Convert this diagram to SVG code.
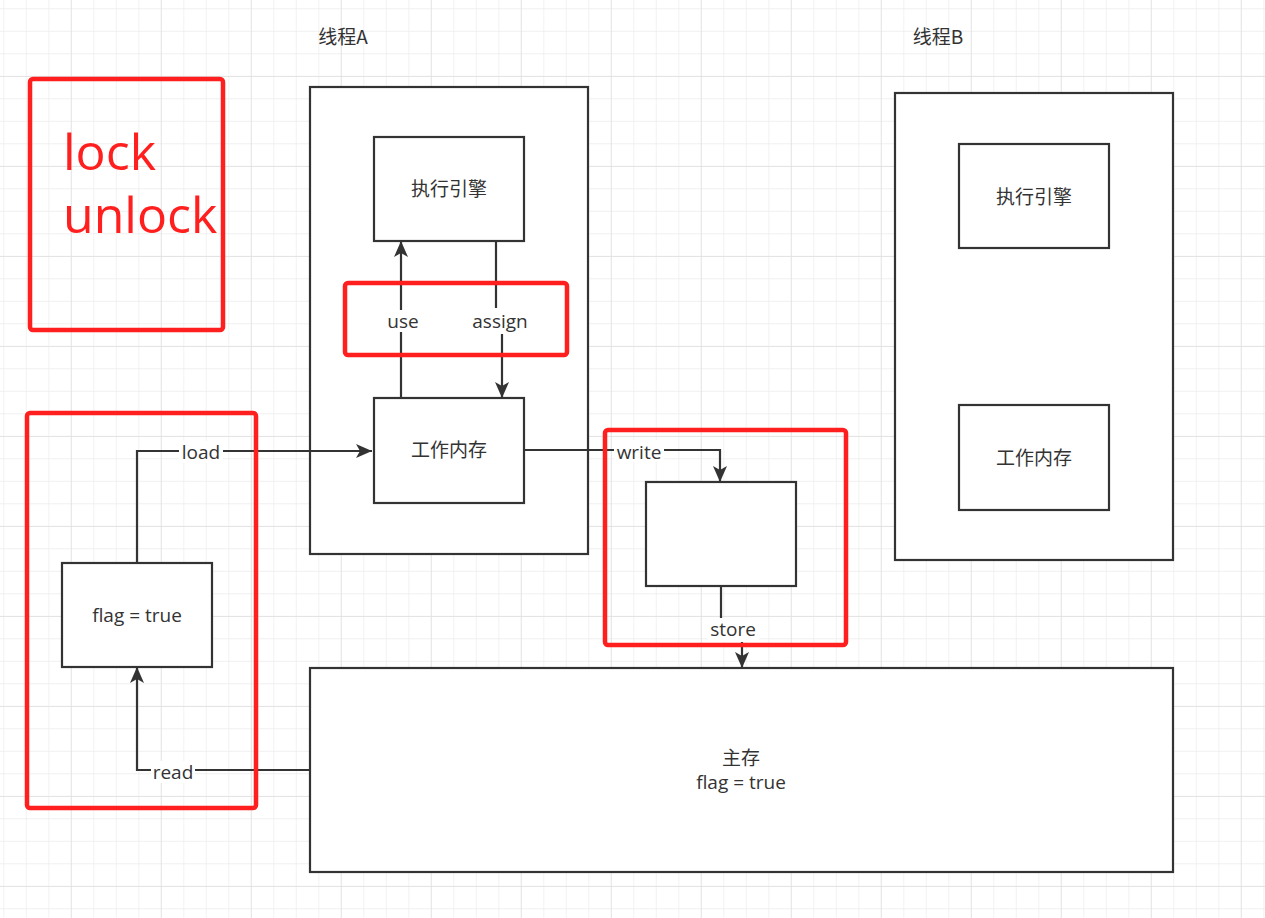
<svg xmlns="http://www.w3.org/2000/svg" width="1265" height="918" viewBox="0 0 1265 918">
<defs>
<pattern id="minor" x="3.3" y="8.3" width="22.5" height="22.5" patternUnits="userSpaceOnUse">
<path d="M0 0H22.5M0 0V22.5" fill="none" stroke="#ebebeb" stroke-width="1.3"/>
</pattern>
<pattern id="major" x="70.8" y="76" width="90" height="90" patternUnits="userSpaceOnUse">
<path d="M0 0H90M0 0V90" fill="none" stroke="#e0e0e0" stroke-width="1.4"/>
</pattern>
<marker id="arrow" viewBox="0 0 16 14" refX="16" refY="7" markerWidth="16" markerHeight="14" markerUnits="userSpaceOnUse" orient="auto">
<path d="M0 0L16 7L0 14L4 7Z" fill="#333"/>
</marker>
</defs>
<style>
.box{fill:#fff;stroke:#333;stroke-width:2.2}
.red{fill:none;stroke:#ff1f1f;stroke-width:4.5}
.t{font-family:"Open Sans","Noto Sans CJK SC",sans-serif;font-size:19px;fill:#333;text-anchor:middle}
.c{font-family:"Noto Sans CJK SC",sans-serif;font-size:19px;fill:#333;text-anchor:middle}
.edge{fill:none;stroke:#333;stroke-width:2.2;marker-end:url(#arrow)}
.lbg{fill:#fff}
.big{font-family:"Open Sans",sans-serif;font-size:50px;fill:#ff1f1f}
</style>
<rect width="1265" height="918" fill="#fff"/>
<rect width="1265" height="918" fill="url(#minor)"/>
<rect width="1265" height="918" fill="url(#major)"/>

<g id="titleA"><text class="c" x="343" y="44">线程A</text></g>
<g id="titleB"><text class="c" x="938" y="44">线程B</text></g>

<g id="threadA"><rect class="box" x="310" y="87" width="278" height="467"/></g>
<g id="threadB"><rect class="box" x="895" y="93" width="278" height="467"/></g>

<g id="engineA"><rect class="box" x="374" y="137" width="150" height="104"/><text class="c" x="449" y="196">执行引擎</text></g>
<g id="memA"><rect class="box" x="374" y="398" width="150" height="105"/><text class="c" x="449" y="457">工作内存</text></g>
<g id="engineB"><rect class="box" x="959" y="144" width="150" height="104"/><text class="c" x="1034" y="204">执行引擎</text></g>
<g id="memB"><rect class="box" x="959" y="405" width="150" height="105"/><text class="c" x="1034" y="465">工作内存</text></g>
<g id="flagBox"><rect class="box" x="62" y="563" width="150" height="104"/><text class="t" x="137" y="622">flag = true</text></g>
<g id="buffer"><rect class="box" x="646" y="482" width="150" height="104"/></g>
<g id="mainMem"><rect class="box" x="310" y="668" width="863" height="204"/><text class="c" x="741" y="765">主存</text><text class="t" x="741" y="789">flag = true</text></g>

<g id="connectors">
<path class="edge" d="M401 398V241"/>
<path class="edge" d="M496 241V322H502V398"/>
<path class="edge" d="M137 563V451H372"/>
<path class="edge" d="M310 770H137V667"/>
<path class="edge" d="M524 450H720V482"/>
<path class="edge" d="M721 586V628H742V668"/>
<rect class="lbg" x="385" y="310" width="36" height="22"/>
<text class="t" x="403" y="328">use</text>
<rect class="lbg" x="470" y="308" width="60" height="26"/>
<text class="t" x="500" y="328">assign</text>
<rect class="lbg" x="179" y="441" width="44" height="22"/>
<text class="t" x="201" y="459">load</text>
<rect class="lbg" x="151" y="761" width="44" height="22"/>
<text class="t" x="173" y="779">read</text>
<rect class="lbg" x="614" y="440" width="50" height="22"/>
<text class="t" x="639" y="459">write</text>
<rect class="lbg" x="708" y="618" width="51" height="24"/>
<text class="t" x="733" y="636">store</text>
</g>

<g id="lockNote">
<rect class="red" x="30" y="79" width="193" height="251" rx="3"/>
<text class="big" x="63" y="170">lock</text>
<text class="big" x="63" y="233">unlock</text>
</g>
<g id="redBoxes">
<rect class="red" x="345" y="283" width="222" height="72" rx="3"/>
<rect class="red" x="27" y="413" width="229" height="395" rx="3"/>
<rect class="red" x="605" y="430" width="241" height="215" rx="3"/>
</g>
</svg>
